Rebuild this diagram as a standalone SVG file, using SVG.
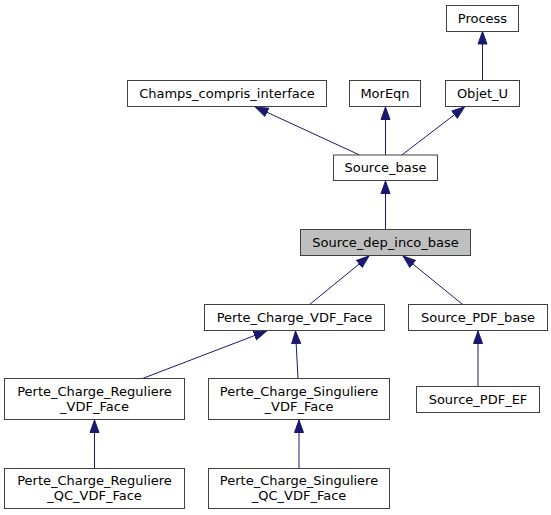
<svg xmlns="http://www.w3.org/2000/svg" width="551" height="515" viewBox="0 0 551 515">
<defs>
<style>
.n rect{fill:#ffffff;stroke:#404040;stroke-width:1}
.n.cur rect{fill:#bfbfbf}
.n text{font-family:"DejaVu Sans",sans-serif;font-size:13px;fill:#000;text-anchor:middle}
.e{stroke:#191970;stroke-width:1;fill:none;marker-end:url(#ah)}
</style>
<marker id="ah" markerUnits="userSpaceOnUse" markerWidth="14" markerHeight="12" viewBox="0 -6 14 12" refX="13" refY="0" orient="auto">
<path d="M0.5,-4.5 L13,0 L0.5,4.5 z" fill="#191970" stroke="#191970" stroke-width="1"/>
</marker>
</defs>
<rect width="551" height="515" fill="#ffffff"/>
<g id="edges">
<path class="e" d="M482.5,80.5 L482.5,31.5"/>
<path class="e" d="M359.6,155 L255.5,107"/>
<path class="e" d="M385.5,155 L385.5,107"/>
<path class="e" d="M401.8,155 L464.5,107"/>
<path class="e" d="M385.5,229.5 L385.5,181"/>
<path class="e" d="M309.6,304.5 L369,256"/>
<path class="e" d="M462.7,304.5 L403,256"/>
<path class="e" d="M142.5,378.5 L266.5,331"/>
<path class="e" d="M298,378.5 L295.5,331"/>
<path class="e" d="M478,386.5 L478,331"/>
<path class="e" d="M94.5,468.5 L94.5,420"/>
<path class="e" d="M299,468.5 L299,420"/>
</g>
<g id="Process" class="n"><rect x="446.5" y="5.5" width="72" height="26"/><text x="482.5" y="23">Process</text></g>
<g id="Champs_compris_interface" class="n"><rect x="127.5" y="80.5" width="199" height="26"/><text x="227" y="98">Champs_compris_interface</text></g>
<g id="MorEqn" class="n"><rect x="349.5" y="80.5" width="71" height="26"/><text x="385" y="98">MorEqn</text></g>
<g id="Objet_U" class="n"><rect x="445.5" y="80.5" width="74" height="26"/><text x="482.5" y="98">Objet_U</text></g>
<g id="Source_base" class="n"><rect x="333.5" y="155" width="104" height="25.5"/><text x="385.5" y="172.3">Source_base</text></g>
<g id="Source_dep_inco_base" class="n cur"><rect x="300.5" y="229.5" width="170" height="26"/><text x="385.5" y="247">Source_dep_inco_base</text></g>
<g id="Perte_Charge_VDF_Face" class="n"><rect x="204.5" y="304.5" width="180" height="26"/><text x="294.5" y="322">Perte_Charge_VDF_Face</text></g>
<g id="Source_PDF_base" class="n"><rect x="408.5" y="304.5" width="139" height="26"/><text x="478" y="322">Source_PDF_base</text></g>
<g id="Perte_Charge_Reguliere_VDF_Face" class="n"><rect x="4.5" y="378.5" width="180" height="41"/><text x="94.5" y="395.5">Perte_Charge_Reguliere</text><text x="94.5" y="410.5">_VDF_Face</text></g>
<g id="Perte_Charge_Singuliere_VDF_Face" class="n"><rect x="208.5" y="378.5" width="181" height="41"/><text x="299" y="395.5">Perte_Charge_Singuliere</text><text x="299" y="410.5">_VDF_Face</text></g>
<g id="Source_PDF_EF" class="n"><rect x="416.5" y="386.5" width="123" height="26"/><text x="478" y="404">Source_PDF_EF</text></g>
<g id="Perte_Charge_Reguliere_QC_VDF_Face" class="n"><rect x="4.5" y="468.5" width="180" height="40"/><text x="94.5" y="484.5">Perte_Charge_Reguliere</text><text x="94.5" y="499.5">_QC_VDF_Face</text></g>
<g id="Perte_Charge_Singuliere_QC_VDF_Face" class="n"><rect x="208.5" y="468.5" width="181" height="40"/><text x="299" y="484.5">Perte_Charge_Singuliere</text><text x="299" y="499.5">_QC_VDF_Face</text></g>
</svg>
